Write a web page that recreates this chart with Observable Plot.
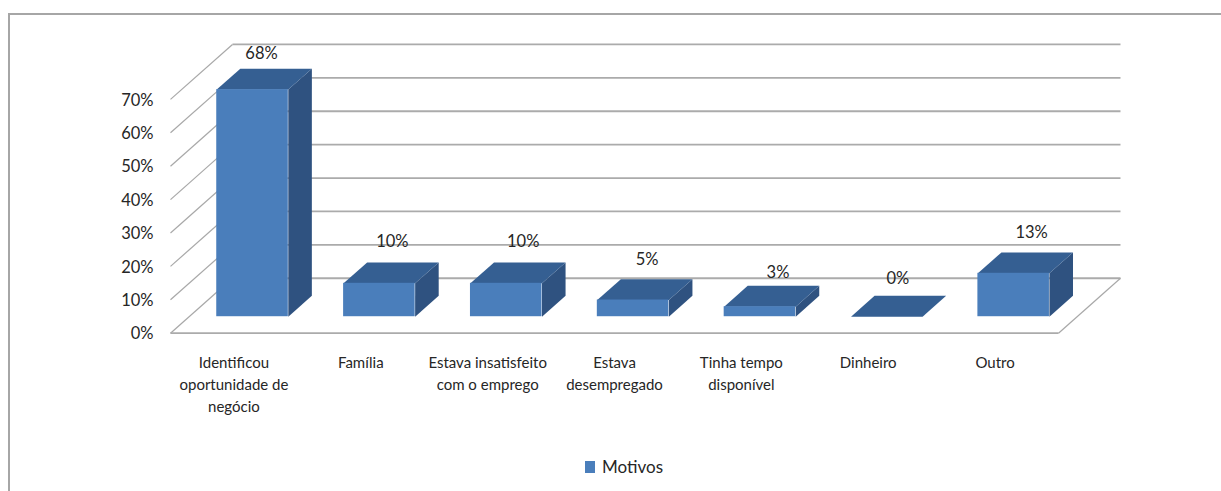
<!DOCTYPE html>
<html lang="pt">
<head>
<meta charset="utf-8">
<script src="https://cdn.jsdelivr.net/npm/d3@7"></script>
<script src="https://cdn.jsdelivr.net/npm/@observablehq/plot@0.6"></script>
<style>
  html, body { margin: 0; padding: 0; background: #fff; width: 1221px; height: 491px; overflow: hidden; }
  body { position: relative; font-family: Lato, sans-serif; }
  #frame { position: absolute; left: 8px; top: 13px; right: 0; bottom: 0; border-left: 2px solid #a6a6a6; border-top: 2px solid #a6a6a6; }
  #chart { position: absolute; left: 0; top: 0; }
  #chart svg { display: block; background: transparent; }
  #legend { position: absolute; left: 585px; top: 456px; display: flex; align-items: center; gap: 7px; font-size: 17px; color: #262626; line-height: 22px; }
  #legend i { display: block; width: 10px; height: 12px; background: #4a7ebb; }
</style>
</head>
<body>
<div id="frame"></div>
<div id="chart"></div>
<div id="legend"><i></i><span>Motivos</span></div>
<script>
const categories = [
  "Identificou\noportunidade de\nnegócio",
  "Família",
  "Estava insatisfeito\ncom o emprego",
  "Estava\ndesempregado",
  "Tinha tempo\ndisponível",
  "Dinheiro",
  "Outro"
];
const values = [68, 10, 10, 5, 3, 0, 13];
const yTicks = [0, 10, 20, 30, 40, 50, 60, 70];
const seriesName = "Motivos";

// Oblique projection of depth, expressed in scale units
const shiftX = 0.4886, shiftY = 16.45;
const depthFront = 0.30, depthBack = 0.68, barWidth = 0.564;
const nCat = categories.length;

const project = (u, v, d) => ({x: u + d * shiftX, y: v + d * shiftY});

const bars = values.map((v, i) => ({
  i, v,
  x0: i + 0.5 - barWidth / 2,
  x1: i + 0.5 + barWidth / 2
}));

function face(key, b, corners) {
  return corners.map(([u, v, d]) => ({key: key + b.i, ...project(u, v, d)}));
}
const topFaces = bars.flatMap((b) => face("t", b, [
  [b.x0, b.v, depthFront], [b.x1, b.v, depthFront], [b.x1, b.v, depthBack], [b.x0, b.v, depthBack]
]));
const sideFaces = bars.flatMap((b) => face("s", b, [
  [b.x1, 0, depthFront], [b.x1, b.v, depthFront], [b.x1, b.v, depthBack], [b.x1, 0, depthBack]
]));

// Hand placement of each value label relative to its bar, as the source chart has it
const labelNudge = [[9, -36], [13, -42], [17, -42], [14, -40], [18, -34], [11, -38], [18, -41]];

const plot = Plot.plot({
  width: 1221,
  height: 450,
  marginLeft: 170,
  marginRight: 163,
  marginTop: 98.9,
  marginBottom: 117.3,
  style: {background: "transparent", overflow: "visible"},
  x: {domain: [0, nCat]},
  y: {domain: [0, 70]},
  marks: [
    // back wall gridlines
    Plot.link(yTicks, {x1: shiftX, x2: nCat + shiftX, y1: (t) => t + shiftY, y2: (t) => t + shiftY, stroke: "#ababab", strokeWidth: 1.8}),
    // left wall diagonals
    Plot.link(yTicks, {x1: 0, x2: shiftX, y1: (t) => t, y2: (t) => t + shiftY, stroke: "#a8a8a8", strokeWidth: 1.2}),
    // floor front edge and right edge
    Plot.link([0], {x1: 0, x2: nCat, y1: 0, y2: 0, stroke: "#ababab", strokeWidth: 1.8}),
    Plot.link([0], {x1: nCat, x2: nCat + shiftX, y1: 0, y2: shiftY, stroke: "#a8a8a8", strokeWidth: 1.2}),
    // bars
    Plot.line(sideFaces, {x: "x", y: "y", z: "key", fill: "#2f5280", stroke: "none"}),
    Plot.line(topFaces, {x: "x", y: "y", z: "key", fill: "#355f92", stroke: "none"}),
    Plot.rect(bars, {
      x1: (b) => b.x0 + depthFront * shiftX,
      x2: (b) => b.x1 + depthFront * shiftX,
      y1: () => depthFront * shiftY,
      y2: (b) => b.v + depthFront * shiftY,
      fill: "#4a7ebb"
    }),
    // value labels
    bars.map((b) => Plot.text([b], {
      x: (d) => d.i + 0.5 + depthFront * shiftX,
      y: (d) => d.v + depthFront * shiftY,
      text: (d) => `${d.v}%`,
      dx: labelNudge[b.i][0], dy: labelNudge[b.i][1],
      fontSize: 16.5, fill: "#262626"
    })),
    // axes
    Plot.axisY({
      ticks: yTicks, tickSize: 0, tickPadding: 17, label: null, dy: 1,
      tickFormat: (d) => `${d}%`, fontSize: 16.5, fill: "#262626"
    }),
    Plot.axisX({
      ticks: categories.map((c, i) => i + 0.5), tickSize: 0, tickPadding: 19, label: null,
      tickFormat: (d) => categories[d - 0.5], fontSize: 15, lineHeight: 1.46, fill: "#262626", textOverflow: null
    })
  ]
});
plot.setAttribute("font-family", "Lato, sans-serif");
document.getElementById("chart").append(plot);
</script>
</body>
</html>
